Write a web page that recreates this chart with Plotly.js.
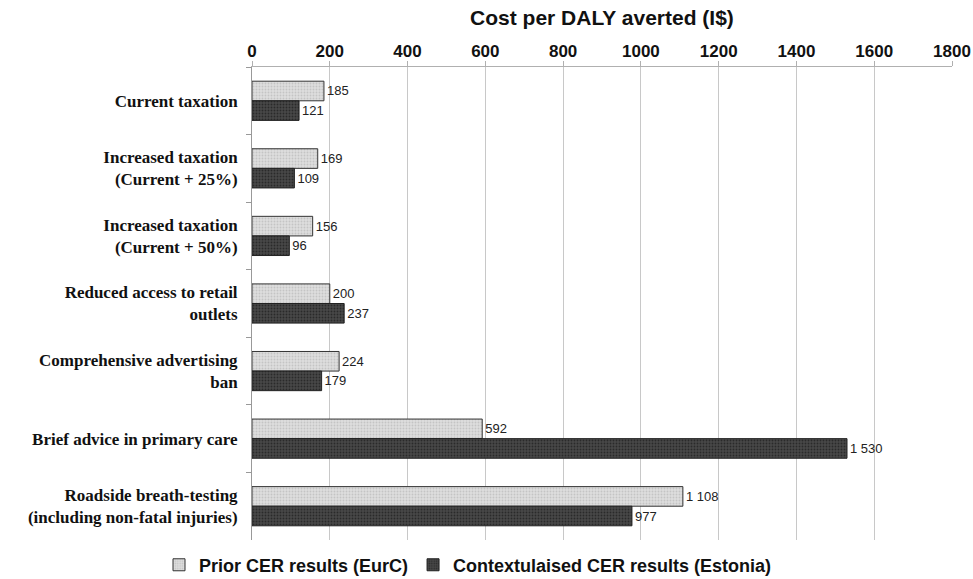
<!DOCTYPE html>
<html>
<head>
<meta charset="utf-8">
<script src="https://cdn.plot.ly/plotly-3.0.1.min.js"></script>
<style>html,body{margin:0;padding:0;background:#fff;}#chart{width:973px;height:579px;}</style>
</head>
<body>
<div id="chart"></div>
<script>
var categories = [
  "Current taxation",
  "Increased taxation<br>(Current + 25%)",
  "Increased taxation<br>(Current + 50%)",
  "Reduced access to retail<br>outlets",
  "Comprehensive advertising<br>ban",
  "Brief advice in primary care",
  "Roadside breath-testing<br>(including non-fatal injuries)"
];
var priorValues = [185, 169, 156, 200, 224, 592, 1108];
var estoniaValues = [121, 109, 96, 237, 179, 1530, 977];
var seriesNames = ["Prior CER results (EurC)", "Contextulaised CER results (Estonia)"];
var xTicks = [0, 200, 400, 600, 800, 1000, 1200, 1400, 1600, 1800];

function fmt(v) {
  return String(v).replace(/\B(?=(\d{3})+(?!\d))/g, " ");
}

var sans = "Arial, Liberation Sans, sans-serif";

var traces = [
  {
    type: "bar", orientation: "h", name: seriesNames[0],
    y: categories, x: priorValues, text: priorValues.map(fmt),
    textposition: "outside", cliponaxis: false,
    textfont: {family: sans, size: 13, color: "#222"},
    marker: {color: "#d9d9d9", line: {color: "#333", width: 1},
             pattern: {shape: ".", fgcolor: "#c4c4c4", bgcolor: "#dedede", size: 3, solidity: 0.3}},
    hoverinfo: "x"
  },
  {
    type: "bar", orientation: "h", name: seriesNames[1],
    y: categories, x: estoniaValues, text: estoniaValues.map(fmt),
    textposition: "outside", cliponaxis: false,
    textfont: {family: sans, size: 13, color: "#222"},
    marker: {color: "#404040", line: {color: "#222", width: 1},
             pattern: {shape: ".", fgcolor: "#2a2a2a", bgcolor: "#484848", size: 3, solidity: 0.3}},
    hoverinfo: "x"
  }
];

var layout = {
  width: 973, height: 579,
  margin: {l: 252, r: 21, t: 67, b: 39, autoexpand: false},
  paper_bgcolor: "#fff", plot_bgcolor: "#fff",
  barmode: "group", bargap: 0.42, bargroupgap: 0,
  showlegend: true,
  legend: {orientation: "h", x: 0.75, xanchor: "right", y: -0.053, yanchor: "middle",
           font: {family: sans, size: 18, color: "#111", weight: "bold"},
           tracegroupgap: 0, traceorder: "normal"},
  title: {text: "<b>Cost per DALY averted (I$)</b>", x: 0.5, xref: "paper", xanchor: "center",
          y: 1 - 18 / 579, yref: "container", yanchor: "middle",
          font: {family: sans, size: 21, color: "#111"}},
  xaxis: {
    side: "top", range: [0, 1800], tickvals: xTicks, ticktext: xTicks.map(String),
    showgrid: true, gridcolor: "#c8c8c8", gridwidth: 1, zeroline: false,
    showline: true, linecolor: "#b0b0b0", linewidth: 1,
    ticks: "outside", ticklen: 5, tickcolor: "#b0b0b0", ticklabelstandoff: -3,
    tickfont: {family: sans, size: 17, color: "#111", weight: "bold"},
    fixedrange: true
  },
  yaxis: {
    type: "category", autorange: "reversed",
    showline: true, linecolor: "#999", linewidth: 1,
    ticks: "outside", tickson: "boundaries", ticklen: 5, tickcolor: "#999",
    showgrid: false, ticklabelstandoff: 10,
    tickfont: {family: "Liberation Serif, Times New Roman, serif", size: 17, color: "#111", weight: "bold"},
    fixedrange: true
  }
};

Plotly.newPlot("chart", traces, layout, {displayModeBar: false, staticPlot: true});
</script>
</body>
</html>
